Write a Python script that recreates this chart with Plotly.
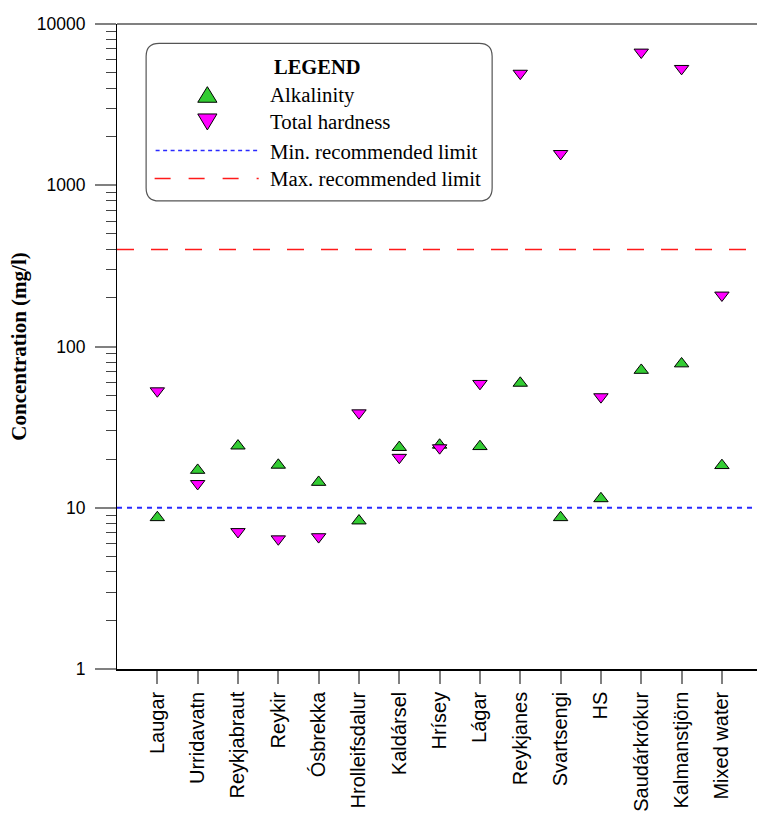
import plotly.graph_objects as go

# Sampling sites along the x axis
sites = ["Laugar", "Urridavatn", "Reykjabraut", "Reykir", "Ósbrekka",
         "Hrolleifsdalur", "Kaldársel", "Hrísey", "Lágar", "Reykjanes",
         "Svartsengi", "HS", "Saudárkrókur", "Kalmanstjörn", "Mixed water"]

# Concentrations in mg/l
alkalinity = [8.7, 17.1, 24.2, 18.4, 14.4, 8.3, 23.7, 24.5, 24.0, 59.3,
              8.7, 11.4, 71.3, 78.2, 18.3]
total_hardness = [53, 14.1, 7.1, 6.4, 6.6, 38.7, 20.5, 23.5, 58.9, 4940,
                  1570, 48.7, 6680, 5290, 208]

# Recommended limits (mg/l)
min_limit = 10
max_limit = 400

y_tick_values = [1, 10, 100, 1000, 10000]
y_tick_labels = ["1", "10", "100", "1000", "10000"]

positions = list(range(1, len(sites) + 1))

W, H = 757, 814
L, R, T, B = 117.4, 0, 24, 144.7
X_END = 15.87
GREEN = "#33cc33"
MAGENTA = "#ff00ff"
SERIF = "Liberation Serif, Times New Roman, serif"
SANS = "Liberation Sans, Arial, sans-serif"

plot_w = W - L - R
plot_h = H - T - B


def px(x):
    return (x - L) / plot_w


def py(y):
    return (H - B - y) / plot_h


fig = go.Figure()

# Limit lines
fig.add_trace(go.Scatter(
    x=[0, X_END], y=[min_limit, min_limit], mode="lines",
    line=dict(color="#2a2aff", width=2, dash="5px,5px"),
    hoverinfo="skip", showlegend=False))
fig.add_trace(go.Scatter(
    x=[0, X_END], y=[max_limit, max_limit], mode="lines",
    line=dict(color="#ff1a1a", width=1.5, dash="17px,17px"),
    hoverinfo="skip", showlegend=False))

# Measurements
fig.add_trace(go.Scatter(
    x=positions, y=alkalinity, mode="markers", name="Alkalinity",
    marker=dict(symbol="triangle-up", size=12.5, color=GREEN,
                line=dict(color="black", width=1)),
    showlegend=False))
fig.add_trace(go.Scatter(
    x=positions, y=total_hardness, mode="markers", name="Total hardness",
    marker=dict(symbol="triangle-down", size=12.5, color=MAGENTA,
                line=dict(color="black", width=1)),
    showlegend=False))

shapes = []
annotations = []

# Top frame line
shapes.append(dict(type="line", xref="paper", yref="paper", x0=0, x1=1,
                   y0=1, y1=1, line=dict(color="#808080", width=2)))

# Legend box with rounded corners
bx0, bx1, by0, by1, rad = 146.5, 492.3, 43.3, 201, 13
x0, x1 = px(bx0), px(bx1)
y0, y1 = py(by1), py(by0)
rx, ry = rad / plot_w, rad / plot_h
box_path = (f"M{x0 + rx},{y0} L{x1 - rx},{y0} Q{x1},{y0} {x1},{y0 + ry} "
            f"L{x1},{y1 - ry} Q{x1},{y1} {x1 - rx},{y1} "
            f"L{x0 + rx},{y1} Q{x0},{y1} {x0},{y1 - ry} "
            f"L{x0},{y0 + ry} Q{x0},{y0} {x0 + rx},{y0} Z")
shapes.append(dict(type="path", xref="paper", yref="paper", path=box_path,
                   fillcolor="white", line=dict(color="#555555", width=1.2)))


def tri(cx, top, bottom, half_w, up, color):
    if up:
        p = (f"M{px(cx - half_w)},{py(bottom)} L{px(cx + half_w)},{py(bottom)} "
             f"L{px(cx)},{py(top)} Z")
    else:
        p = (f"M{px(cx - half_w)},{py(top)} L{px(cx + half_w)},{py(top)} "
             f"L{px(cx)},{py(bottom)} Z")
    return dict(type="path", xref="paper", yref="paper", path=p,
                fillcolor=color, line=dict(color="black", width=1))


shapes.append(tri(207.7, 86.7, 102.3, 9.6, True, GREEN))
shapes.append(tri(207.7, 114, 130, 9.6, False, MAGENTA))
shapes.append(dict(type="line", xref="paper", yref="paper",
                   x0=px(156), x1=px(259), y0=py(150.5), y1=py(150.5),
                   line=dict(color="#2a2aff", width=1.5, dash="4px,3.5px")))
shapes.append(dict(type="line", xref="paper", yref="paper",
                   x0=px(155), x1=px(259), y0=py(178.5), y1=py(178.5),
                   line=dict(color="#ff1a1a", width=1.5, dash="16px,18px")))

annotations.append(dict(text="<b>LEGEND</b>", xref="paper", yref="paper",
                        x=px(318), y=py(67), xanchor="center", yanchor="middle",
                        showarrow=False, font=dict(family=SERIF, size=20.5, color="black")))
for label, yc in [("Alkalinity", 95.5), ("Total hardness", 122),
                  ("Min. recommended limit", 152), ("Max. recommended limit", 179)]:
    annotations.append(dict(text=label, xref="paper", yref="paper",
                            x=px(268), y=py(yc), xanchor="left", yanchor="middle",
                            showarrow=False,
                            font=dict(family=SERIF, size=20.8, color="black")))

fig.update_layout(
    width=W, height=H,
    margin=dict(l=L, r=R, t=T, b=B),
    paper_bgcolor="white", plot_bgcolor="white",
    shapes=shapes, annotations=annotations,
    xaxis=dict(
        range=[0, X_END], tickmode="array", tickvals=positions, ticktext=sites,
        tickangle=-90, tickfont=dict(family=SANS, size=20, color="black"),
        ticks="outside", ticklen=13, tickwidth=1.5, tickcolor="#808080",
        showline=True, linecolor="black", linewidth=1.5,
        showgrid=False, zeroline=False),
    yaxis=dict(
        type="log", range=[0, 4], tickmode="array",
        tickvals=y_tick_values, ticktext=y_tick_labels,
        tickfont=dict(family=SANS, size=17.5, color="black"),
        ticklabelstandoff=6,
        ticks="outside", ticklen=21, tickwidth=1.5, tickcolor="#808080",
        minor=dict(ticks="outside", ticklen=10, tickwidth=1, tickcolor="#444444",
                   dtick="D1", showgrid=False),
        showline=True, linecolor="black", linewidth=1,
        showgrid=False, zeroline=False,
        title=dict(text="<b>Concentration (mg/l)</b>", standoff=4,
                   font=dict(family=SERIF, size=21, color="black"))),
)

fig.write_html("out.html")
